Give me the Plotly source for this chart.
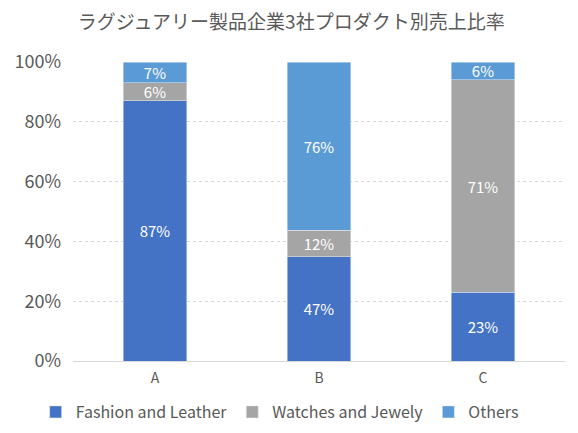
import plotly.graph_objects as go

# 企業とプロダクト別売上比率 (%)
companies = ["A", "B", "C"]
fashion = [87, 47, 23]
watches = [6, 12, 71]
others = [7, 76, 6]

series = [
    ("Fashion and Leather", fashion, "#4472C4"),
    ("Watches and Jewely", watches, "#A5A5A5"),
    ("Others", others, "#5B9BD5"),
]

font = "Meiryo UI, Noto Sans CJK JP, sans-serif"

fig = go.Figure()
for name, vals, color in series:
    fig.add_trace(go.Bar(
        x=companies,
        y=vals,
        name=name,
        marker_color=color,
        text=[f"{v}%" for v in vals],
        textposition="inside",
        insidetextanchor="middle",
        constraintext="none",
        textfont=dict(color="white", size=15, family=font),
        textangle=0,
    ))

# ページ本体の余白 (8px) を見込んで位置を合わせる
fig.update_layout(
    barmode="stack",
    barnorm="percent",
    bargap=0.61,
    width=578,
    height=433,
    margin=dict(l=65, r=21, t=54, b=80, autoexpand=False),
    paper_bgcolor="white",
    plot_bgcolor="white",
    font=dict(family=font, color="#595959"),
    title=dict(
        text="ラグジュアリー製品企業3社プロダクト別売上比率",
        x=0.49, xanchor="center", y=1 - 14 / 433, yanchor="middle",
        font=dict(size=19, color="#595959", family=font),
    ),
    yaxis=dict(
        range=[0, 100],
        dtick=20,
        ticksuffix="%",
        showgrid=True,
        gridcolor="#D9D9D9",
        griddash="dot",
        zeroline=False,
        tickfont=dict(size=18),
        ticklen=0,
        ticklabelstandoff=11,
    ),
    xaxis=dict(
        showline=True,
        linecolor="#D9D9D9",
        tickfont=dict(size=14),
        ticklabelstandoff=4,
    ),
    legend=dict(
        orientation="h",
        xref="container", x=0.47, xanchor="center",
        yref="container", y=1 - 404 / 433, yanchor="middle",
        font=dict(size=16),
        itemwidth=30,
        traceorder="normal",
    ),
)

fig.write_html("out.html")
